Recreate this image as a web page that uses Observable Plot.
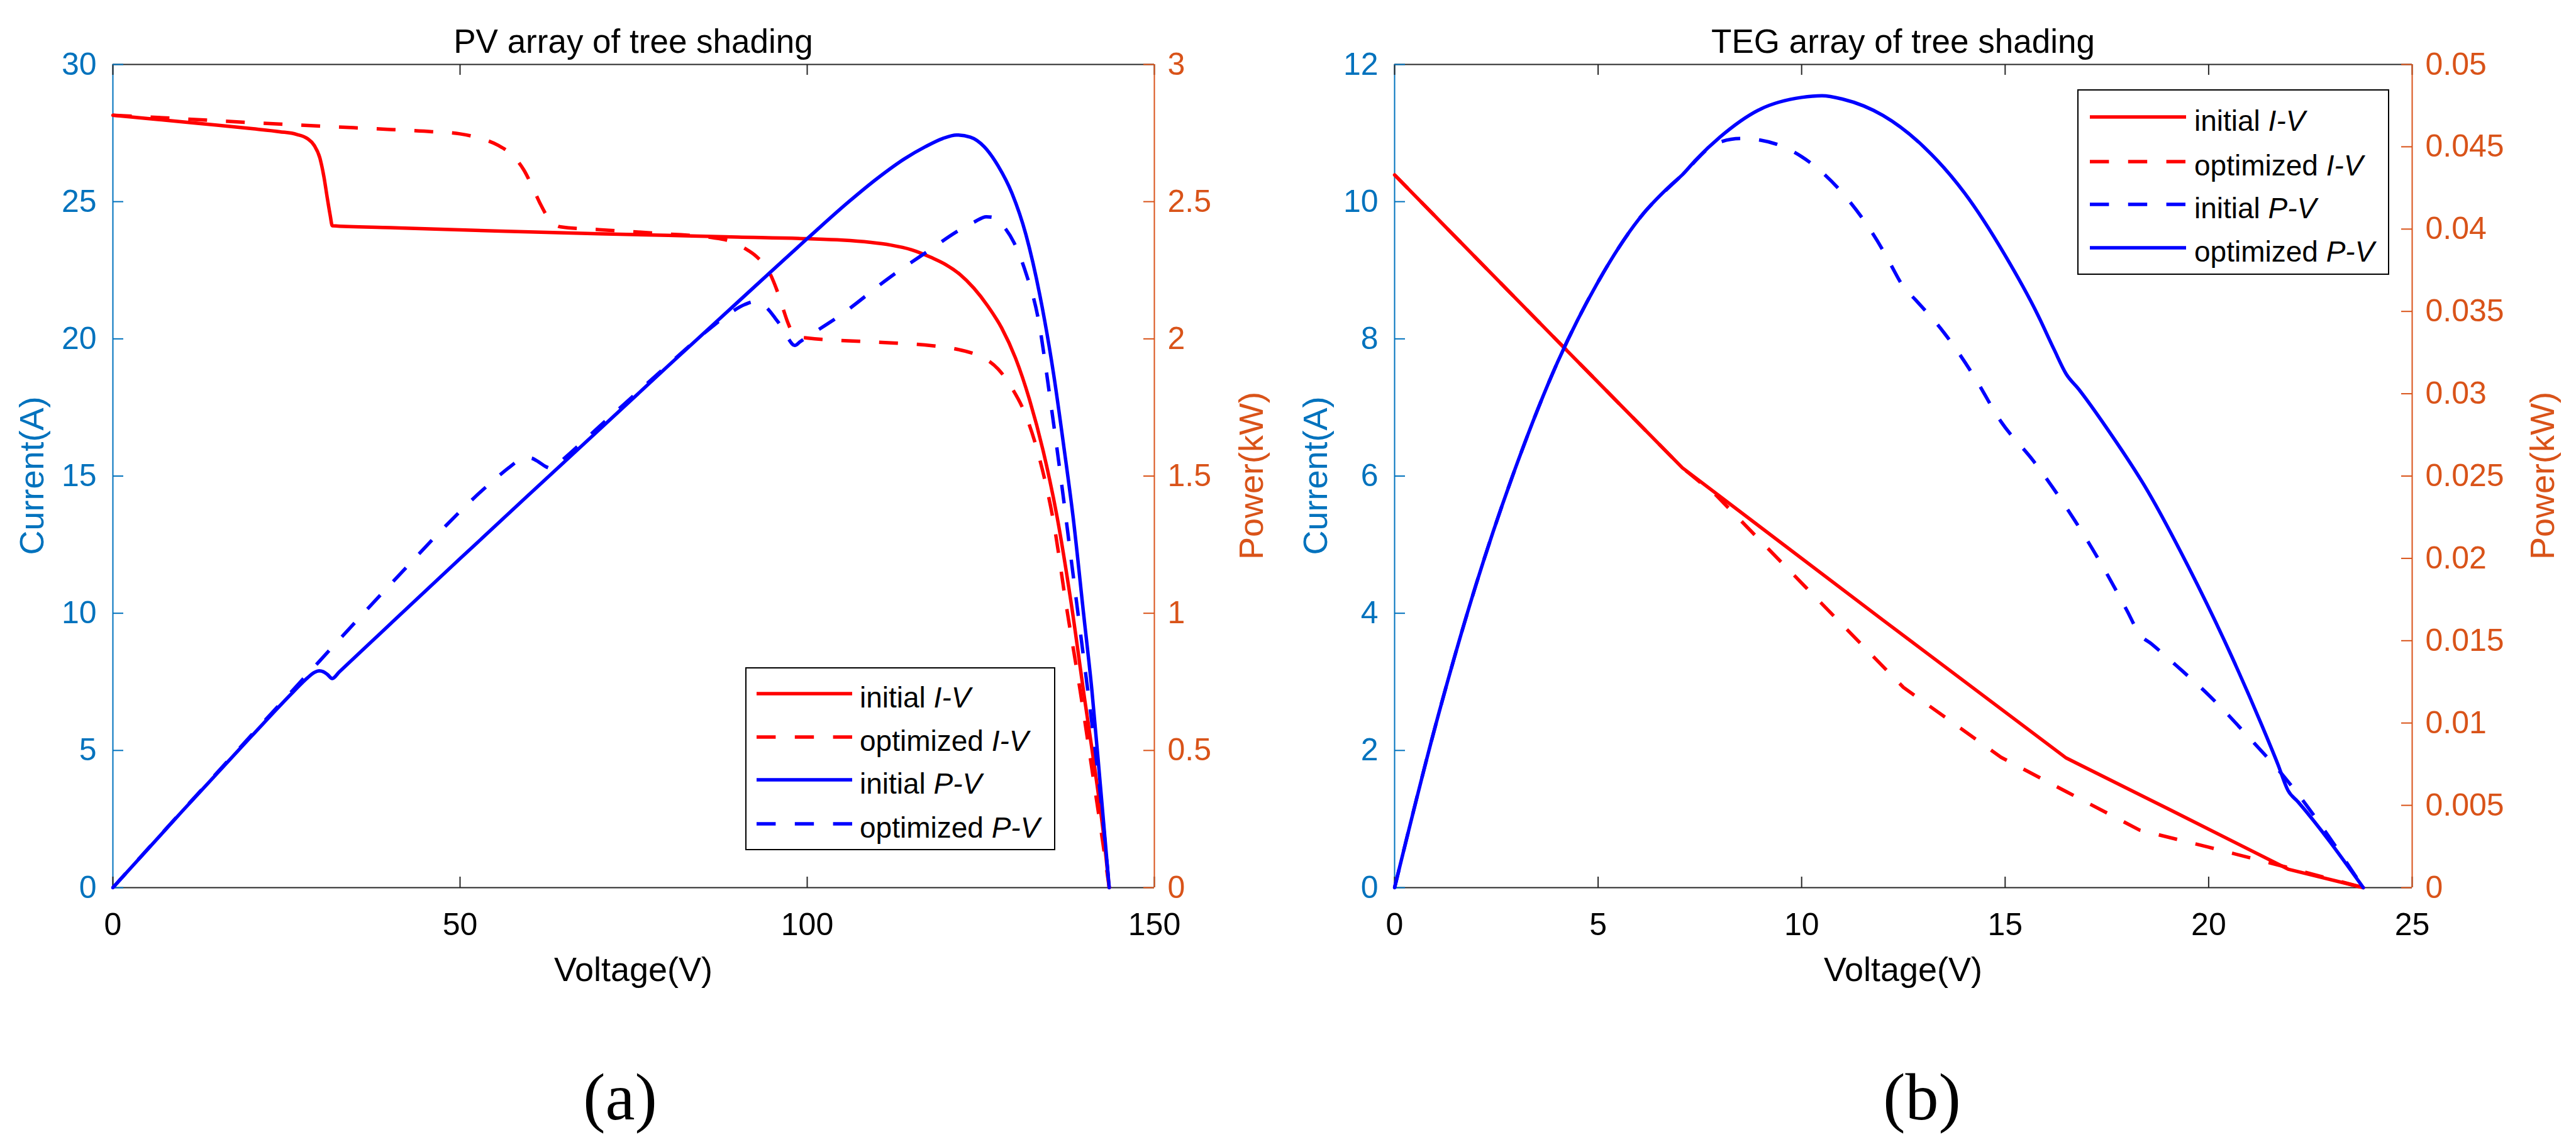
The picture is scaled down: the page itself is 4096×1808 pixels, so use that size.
<!DOCTYPE html>
<html>
<head>
<meta charset="utf-8">
<script src="https://cdn.jsdelivr.net/npm/d3@7"></script>
<script src="https://cdn.jsdelivr.net/npm/@observablehq/plot@0.6"></script>
<style>
html, body { margin: 0; padding: 0; background: #ffffff; }
#root { position: relative; width: 4096px; height: 1808px; overflow: hidden; background: #ffffff; }
#root svg { position: absolute; top: 0; }
</style>
</head>
<body>
<div id="root"></div>
<script>
// ---------------- data ----------------
// (a) PV array: voltage (V) vs current (A) / power (kW)
const pvVoltageTicks = [0, 50, 100, 150];
const pvCurrentTicks = [0, 5, 10, 15, 20, 25, 30];
const pvPowerTicks = [0, 0.5, 1, 1.5, 2, 2.5, 3];

const pvInitialIV = [[0,28.15],[5,28.03],[10,27.91],[15,27.79],[20,27.66],[24,27.55],[26.5,27.45],[28,27.3],[29,27.05],[29.8,26.6],[30.4,25.9],[30.9,25.1],[31.3,24.5],[31.6,24.12],[40,24.05],[50,23.97],[60,23.9],[70,23.83],[80,23.77],[90,23.71],[100,23.65],[105,23.6],[109,23.52],[112,23.42],[115,23.25],[118,22.95],[120,22.7],[122,22.35],[124,21.85],[126,21.2],[128,20.4],[130,19.3],[132,17.8],[134,15.9],[136,13.5],[138,10.4],[140,6.8],[141.5,4.2],[142.7,1.9],[143.5,0]];

const pvOptimizedIV = [[0,28.15],[10,28.02],[20,27.88],[30,27.75],[40,27.63],[46,27.55],[50,27.47],[53,27.3],[55.5,27.05],[57.5,26.7],[59.2,26.15],[60.5,25.5],[61.6,24.9],[62.6,24.45],[63.5,24.2],[64.5,24.08],[70,23.98],[80,23.82],[86,23.7],[89,23.55],[91,23.3],[92.7,23.0],[94.5,22.45],[95.6,21.8],[96.4,21.2],[97.2,20.6],[98.2,20.12],[100,20.03],[110,19.88],[118,19.75],[121,19.65],[123.5,19.5],[125.5,19.3],[127.5,18.9],[129.5,18.2],[131.5,17.2],[133.5,15.6],[135.5,13.3],[137.3,10.3],[139.3,7.2],[141.2,4.0],[142.6,1.6],[143.5,0]];

const pvInitialPV = [[0,0],[10,0.279],[20,0.553],[26,0.714],[28,0.764],[29,0.784],[29.7,0.79],[30.3,0.787],[30.9,0.777],[31.6,0.762],[32.6,0.786],[40,0.962],[50,1.199],[60,1.434],[70,1.668],[80,1.902],[90,2.134],[100,2.365],[106,2.5],[110,2.583],[114,2.656],[117,2.7],[119.5,2.73],[121.5,2.743],[123.5,2.735],[125.5,2.7],[127.5,2.63],[129.5,2.53],[131.5,2.38],[133.5,2.16],[135.5,1.87],[137,1.6],[138.3,1.35],[139.8,1.0],[141,0.72],[142.2,0.38],[143.5,0]];

const pvOptimizedPV = [[0,0],[10,0.28],[20,0.557],[28,0.777],[35,0.97],[42,1.16],[48,1.32],[52,1.42],[55,1.488],[57,1.53],[58.3,1.555],[59.3,1.568],[60.3,1.565],[61.3,1.552],[62.3,1.535],[63.3,1.527],[64,1.542],[64.5,1.553],[70,1.679],[80,1.906],[86,2.038],[89,2.096],[91,2.125],[92.3,2.135],[93.3,2.13],[94.3,2.11],[95.4,2.075],[96.4,2.04],[97.3,2.0],[98.2,1.976],[99,1.99],[105,2.09],[112,2.226],[118,2.33],[121.5,2.39],[124,2.425],[125.8,2.445],[127,2.442],[128.3,2.41],[129.8,2.35],[131.5,2.24],[133.3,2.07],[135,1.78],[136.6,1.48],[138,1.2],[139.5,0.9],[141,0.6],[142.3,0.32],[143.5,0]];

// (b) TEG array
const tegVoltageTicks = [0, 5, 10, 15, 20, 25];
const tegCurrentTicks = [0, 2, 4, 6, 8, 10, 12];
const tegPowerTicks = [0, 0.005, 0.01, 0.015, 0.02, 0.025, 0.03, 0.035, 0.04, 0.045, 0.05];

const tegInitialIV = [[0,10.39],[4,7.97],[7.07,6.12],[12,3.9],[16.5,1.89],[19,1.15],[21.95,0.27],[23.8,0]];
const tegOptimizedIV = [[0,10.39],[4,7.97],[7.07,6.12],[7.9,5.72],[10.1,4.38],[12.5,2.92],[14.9,1.9],[16.5,1.4],[18.3,0.84],[20,0.59],[21.9,0.3],[23.8,0]];
const tegInitialPV = [[0,0],[1,0.0098],[2,0.0184],[3,0.0257],[4,0.0319],[5,0.0368],[6,0.0406],[7.07,0.0433],[7.9,0.0452],[8.5,0.0455],[9,0.0454],[10,0.0444],[11,0.0422],[12,0.0387],[12.2,0.0378],[12.5,0.0365],[12.8,0.0357],[13.5,0.0337],[14.2,0.0312],[14.9,0.0283],[15.7,0.0259],[16.5,0.0231],[17.4,0.0195],[18,0.0168],[18.3,0.0154],[18.6,0.0148],[19.2,0.0135],[20,0.0117],[21,0.0091],[21.9,0.0066],[23.8,0]];
const tegOptimizedPV = [[0,0],[1,0.0098],[2,0.0184],[3,0.0257],[4,0.0319],[5,0.0368],[6,0.0406],[6.8,0.0427],[7.07,0.0433],[7.4,0.0442],[8,0.0456],[9,0.0473],[10,0.048],[10.5,0.0481],[11,0.0479],[12,0.0469],[13,0.045],[14,0.0422],[15,0.0384],[15.8,0.0348],[16.2,0.0327],[16.5,0.0312],[16.8,0.0303],[17.5,0.0279],[18.5,0.0241],[19.5,0.0195],[20.5,0.0144],[21.3,0.0099],[21.7,0.0075],[21.95,0.0059],[22.2,0.0052],[23.8,0]];

// texts
const pvTitle = "PV array of tree shading";
const tegTitle = "TEG array of tree shading";
const xLabel = "Voltage(V)";
const yLeftLabel = "Current(A)";
const yRightLabel = "Power(kW)";
const pvLegend = [["initial ", "I-V"], ["optimized ", "I-V"], ["initial ", "P-V"], ["optimized ", "P-V"]];
const tegLegend = [["initial ", "I-V"], ["optimized ", "I-V"], ["initial ", "P-V"], ["optimized ", "P-V"]];
const captions = ["(a)", "(b)"];

// ---------------- styles ----------------
const FONT = '"Liberation Sans", Arial, Helvetica, sans-serif';
const SERIF = '"Liberation Serif", "Times New Roman", Times, serif';
const AX_BLUE = "#0072BD", AX_ORANGE = "#D95319", AX_BLACK = "#262626";
const RED = "#FF0000", BLUE = "#0000FF";
const LW = 5.5, AXW = 2, TICKLEN = 17, DASH = "30,30";
const TICK_FS = 50, LABEL_FS = 54, TITLE_FS = 53, LEG_FS = 46, CAP_FS = 106;
const W = 4096, H = 1808;
const TOP = 102, BOTTOM = 1411;

const panels = [
  {
    svgLeft: 0, fl: 179, fr: 1835,
    xDomain: [0, 150], xTicks: pvVoltageTicks,
    yDomain: [0, 30], yTicks: pvCurrentTicks,
    pDomain: [0, 3], pTicks: pvPowerTicks,
    iv: [{data: pvInitialIV, dash: null}, {data: pvOptimizedIV, dash: DASH}],
    pv: [{data: pvInitialPV, dash: null}, {data: pvOptimizedPV, dash: DASH}],
    ivCurve: "monotone-x", pvCurve: "monotone-x",
    title: pvTitle, titleX: 1007,
    leftLabelX: 69, rightLabelX: 2008,
    caption: captions[0], captionX: 986,
    legend: {x0: 1186, x1: 1677, y0: 1062, y1: 1351, rows: [1103, 1172, 1240, 1310], lx0: 1203, lx1: 1355, tx: 1367,
             labels: pvLegend, styles: [[RED, null], [RED, DASH], [BLUE, null], [BLUE, DASH]]}
  },
  {
    svgLeft: 2048, fl: 2217, fr: 3835,
    xDomain: [0, 25], xTicks: tegVoltageTicks,
    yDomain: [0, 12], yTicks: tegCurrentTicks,
    pDomain: [0, 0.05], pTicks: tegPowerTicks,
    iv: [{data: tegInitialIV, dash: null}, {data: tegOptimizedIV, dash: DASH}],
    pv: [{data: tegOptimizedPV, dash: null}, {data: tegInitialPV, dash: DASH}],
    ivCurve: "linear", pvCurve: "monotone-x",
    title: tegTitle, titleX: 3026,
    leftLabelX: 2110, rightLabelX: 4061,
    caption: captions[1], captionX: 3056,
    legend: {x0: 3304, x1: 3798, y0: 143, y1: 436, rows: [186, 257, 325, 394], lx0: 3323, lx1: 3476, tx: 3489,
             labels: tegLegend, styles: [[RED, null], [RED, DASH], [BLUE, DASH], [BLUE, null]]}
  }
];

function lineMarks(series, color, curve) {
  return series.map(s => Plot.line(s.data, {
    x: d => d[0], y: d => d[1], stroke: color, strokeWidth: LW, curve,
    strokeDasharray: s.dash || undefined,
    strokeLinecap: s.dash ? "butt" : "round", strokeLinejoin: "round"
  }));
}

const root = document.getElementById("root");

for (const p of panels) {
  const svgW = 2048;
  const marginLeft = p.fl - p.svgLeft;
  const marginRight = p.svgLeft + svgW - p.fr;
  const innerW = p.fr - p.fl;
  const innerH = BOTTOM - TOP;
  const common = {
    width: svgW, height: H,
    marginLeft, marginRight, marginTop: TOP, marginBottom: H - BOTTOM,
    style: {fontFamily: FONT, background: "transparent", overflow: "visible"}
  };

  // left-axis layer: current
  const layerI = Plot.plot({
    ...common,
    x: {domain: p.xDomain, axis: null},
    y: {domain: p.yDomain, axis: null},
    marks: [
      Plot.ruleY([p.yDomain[1]], {stroke: AX_BLACK, strokeWidth: AXW}),
      Plot.ruleY([p.yDomain[0]], {stroke: AX_BLACK, strokeWidth: AXW}),
      Plot.ruleX([p.xDomain[0]], {stroke: AX_BLUE, strokeWidth: AXW}),
      Plot.ruleX(p.xTicks, {x: d => d, stroke: AX_BLACK, strokeWidth: AXW, insetTop: innerH - TICKLEN}),
      Plot.ruleX(p.xTicks, {x: d => d, stroke: AX_BLACK, strokeWidth: AXW, insetBottom: innerH - TICKLEN}),
      Plot.ruleY(p.yTicks, {y: d => d, stroke: AX_BLUE, strokeWidth: AXW, insetRight: innerW - TICKLEN}),
      Plot.axisX(p.xTicks, {anchor: "bottom", tickSize: 0, tickPadding: 40, fontSize: TICK_FS, fill: "#000000", label: null, tickFormat: d => String(d)}),
      Plot.axisY(p.yTicks, {anchor: "left", tickSize: 0, tickPadding: 26, fontSize: TICK_FS, fill: AX_BLUE, label: null, tickFormat: d => String(d)}),
      ...lineMarks(p.iv, RED, p.ivCurve)
    ]
  });
  layerI.style.left = p.svgLeft + "px";
  root.appendChild(layerI);

  // right-axis layer: power
  const layerP = Plot.plot({
    ...common,
    x: {domain: p.xDomain, axis: null},
    y: {domain: p.pDomain, axis: null},
    marks: [
      Plot.ruleX([p.xDomain[1]], {stroke: AX_ORANGE, strokeWidth: AXW}),
      Plot.ruleY(p.pTicks, {y: d => d, stroke: AX_ORANGE, strokeWidth: AXW, insetLeft: innerW - TICKLEN}),
      Plot.axisY(p.pTicks, {anchor: "right", tickSize: 0, tickPadding: 21, fontSize: TICK_FS, fill: AX_ORANGE, label: null, tickFormat: d => String(d)}),
      ...lineMarks(p.pv, BLUE, p.pvCurve)
    ]
  });
  layerP.style.left = p.svgLeft + "px";
  root.appendChild(layerP);
}

// ---------------- overlay: titles, axis labels, legends, captions ----------------
const ov = d3.select(root).append("svg")
  .attr("width", W).attr("height", H)
  .style("left", "0px").style("top", "0px")
  .style("font-family", FONT);

const midY = (TOP + BOTTOM) / 2;
for (const p of panels) {
  ov.append("text").attr("x", p.titleX).attr("y", 84).attr("text-anchor", "middle")
    .attr("font-size", TITLE_FS).attr("fill", "#000").text(p.title);
  ov.append("text").attr("x", (p.fl + p.fr) / 2).attr("y", 1560).attr("text-anchor", "middle")
    .attr("font-size", LABEL_FS).attr("fill", "#000").text(xLabel);
  ov.append("text").attr("transform", `translate(${p.leftLabelX},${midY}) rotate(-90)`).attr("text-anchor", "middle")
    .attr("font-size", LABEL_FS).attr("fill", AX_BLUE).text(yLeftLabel);
  ov.append("text").attr("transform", `translate(${p.rightLabelX},${midY}) rotate(-90)`).attr("text-anchor", "middle")
    .attr("font-size", LABEL_FS).attr("fill", AX_ORANGE).text(yRightLabel);
  ov.append("text").attr("x", p.captionX).attr("y", 1780).attr("text-anchor", "middle")
    .attr("font-family", SERIF).attr("font-size", CAP_FS).attr("fill", "#000").text(p.caption);

  const L = p.legend;
  const g = ov.append("g");
  g.append("rect").attr("x", L.x0).attr("y", L.y0).attr("width", L.x1 - L.x0).attr("height", L.y1 - L.y0)
    .attr("fill", "#ffffff").attr("stroke", "#000").attr("stroke-width", AXW);
  L.rows.forEach((ry, i) => {
    const [col, dash] = L.styles[i];
    g.append("line").attr("x1", L.lx0).attr("x2", L.lx1).attr("y1", ry).attr("y2", ry)
      .attr("stroke", col).attr("stroke-width", LW)
      .attr("stroke-dasharray", dash ? "30.4,30.4" : null);
    const t = g.append("text").attr("x", L.tx).attr("y", ry + 22).attr("font-size", LEG_FS).attr("fill", "#000");
    t.append("tspan").text(L.labels[i][0]);
    t.append("tspan").attr("font-style", "italic").text(L.labels[i][1]);
  });
}
</script>
</body>
</html>
